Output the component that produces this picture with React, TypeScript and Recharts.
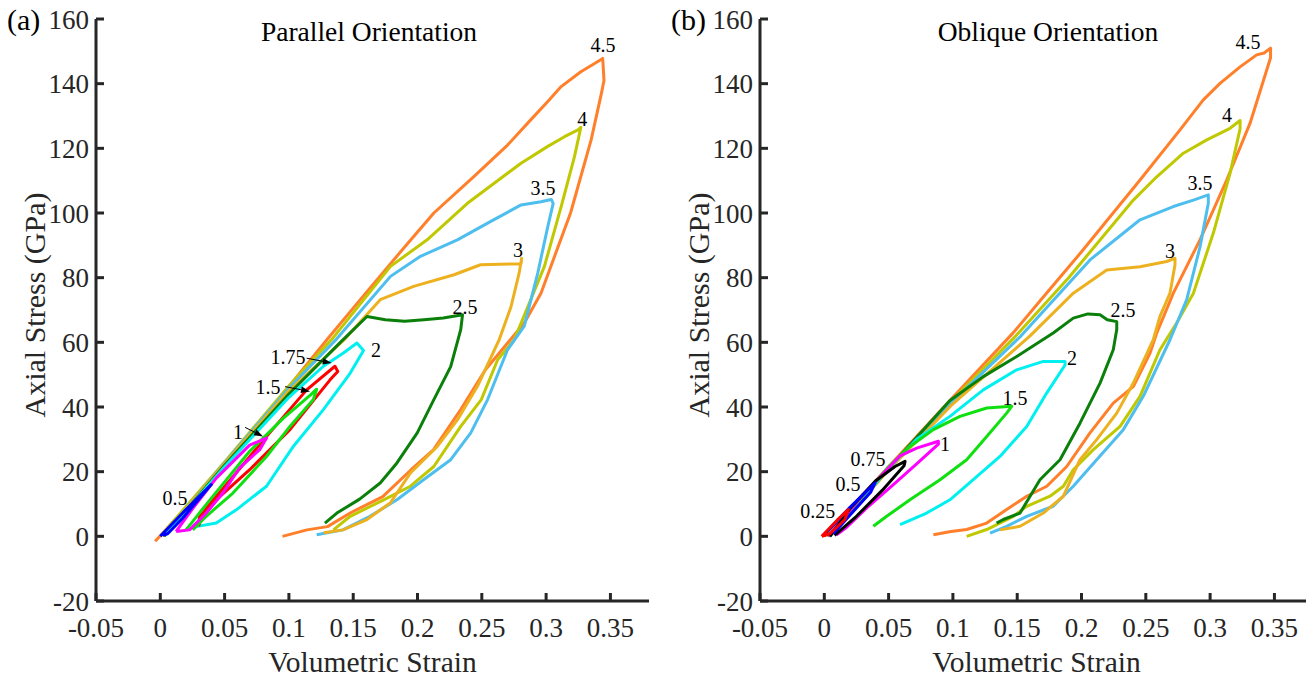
import React from 'react';
import { LineChart, Line, XAxis, YAxis, ReferenceDot, ReferenceLine, Label } from 'recharts';

type P = [number, number];

const FONT = '"Liberation Serif", "Times New Roman", serif';
const AXIS_COLOR = '#262626';

const xTicks = [-0.05, 0, 0.05, 0.1, 0.15, 0.2, 0.25, 0.3, 0.35];
const yTicks = [-20, 0, 20, 40, 60, 80, 100, 120, 140, 160];

// ---------- Panel (a): Parallel Orientation ----------
const a_45: P[] = [[-0.004,-1.5],[0.03,13],[0.08,36.5],[0.1295,60.8],[0.1555,73.2],[0.19,89.5],[0.2127,100],[0.244,111.3],[0.27,121],[0.288,128.8],[0.3013,134.5],[0.3117,139.1],[0.327,143.7],[0.338,146.3],[0.344,147.8],[0.345,141],[0.343,137],[0.335,122.6],[0.319,100],[0.296,75.2],[0.283,66],[0.2528,51.5],[0.2336,39.2],[0.2125,26.8],[0.195,20.6],[0.173,12.3],[0.148,7.3],[0.13,3],[0.114,2],[0.095,0]];
const a_4: P[] = [[0,0],[0.05,23],[0.1,46.5],[0.1335,61],[0.179,83.5],[0.2075,91.7],[0.2388,103],[0.27,112.3],[0.2805,115.4],[0.3013,120.6],[0.3143,123.6],[0.3248,125.7],[0.327,126.5],[0.3221,117.5],[0.3117,102],[0.2987,83.5],[0.2752,60.8],[0.2623,54.6],[0.2496,42.3],[0.2336,34],[0.2127,21.6],[0.1945,15.5],[0.1737,11.3],[0.1477,6.2],[0.1346,2]];
const a_35: P[] = [[0.002,0],[0.05,22.8],[0.1,45.8],[0.137,61],[0.179,80.4],[0.2023,86.6],[0.231,91.7],[0.257,97.4],[0.2805,102.5],[0.296,103.5],[0.304,104.2],[0.3055,103],[0.3013,95.8],[0.2935,81.4],[0.283,65],[0.27,57.7],[0.2545,42.3],[0.2414,32],[0.2258,23.7],[0.2047,17.5],[0.184,11.3],[0.163,6.2],[0.142,2],[0.1216,0.5]];
const a_3: P[] = [[0.002,0],[0.05,22.5],[0.1,45],[0.143,60.8],[0.171,73.2],[0.197,77.3],[0.2284,80.9],[0.249,84],[0.2805,84.3],[0.281,86],[0.279,81.4],[0.2727,71],[0.2635,60.8],[0.2466,46.4],[0.231,36],[0.2154,27.8],[0.1945,19.6],[0.179,10.4],[0.1607,5.2],[0.142,2],[0.127,1.1]];
const a_25: P[] = [[0.003,0],[0.05,22],[0.1,44],[0.14,60],[0.1607,68],[0.175,67],[0.19,66.5],[0.205,67],[0.22,67.5],[0.235,68.5],[0.2336,63.9],[0.2258,52.5],[0.2127,42.3],[0.1998,32],[0.184,22.7],[0.171,16.5],[0.155,11.5],[0.1373,7.2],[0.128,4.1]];
const a_2: P[] = [[0.004,0.5],[0.05,21.5],[0.1,43],[0.1268,52.6],[0.1424,56.7],[0.1529,59.8],[0.158,57.5],[0.1477,50.5],[0.1268,39.2],[0.1034,27.8],[0.0826,15.5],[0.0591,8.2],[0.0435,4.1],[0.0279,3],[0.025,3.5]];
const a_175: P[] = [[0.0297,3.1],[0.0348,8.3],[0.0567,18.5],[0.085,32],[0.1138,45.3],[0.1358,52.6],[0.138,51],[0.132,48.4],[0.1008,33],[0.0695,20.6],[0.0435,11.3],[0.0305,6.2],[0.0297,3.1]];
const a_15: P[] = [[0.02,2],[0.035,9.5],[0.0695,26.3],[0.0955,36.5],[0.1164,43.6],[0.1216,45.5],[0.119,42.3],[0.1008,34],[0.0826,24.7],[0.0565,13.4],[0.0357,6.2],[0.0252,2]];
const a_1: P[] = [[0.0123,1.5],[0.025,8.5],[0.0435,18],[0.0695,28.2],[0.0826,30.4],[0.0773,26.8],[0.0617,21.2],[0.0487,13.4],[0.0357,7.2],[0.0227,2],[0.0123,1.5]];
const a_05: P[] = [[0,0],[0.02,8.3],[0.0396,16],[0.0305,11.8],[0.0174,5.6],[0.0057,0.8],[0.002,0.4]];

// ---------- Panel (b): Oblique Orientation ----------
const b_45: P[] = [[0,0],[0.05,21.5],[0.1,43],[0.147,63],[0.1703,74],[0.2,88],[0.2455,110.2],[0.2766,125.7],[0.2947,135],[0.3077,140.1],[0.3233,145.2],[0.3362,148.9],[0.342,149.5],[0.347,151],[0.347,148],[0.331,127.7],[0.3129,110.2],[0.2921,91.7],[0.2714,75.2],[0.2585,62.9],[0.2533,56.7],[0.2404,46.4],[0.2247,41.2],[0.2066,32],[0.1885,21.6],[0.173,15.5],[0.1574,12.4],[0.1418,8.3],[0.1263,4.1],[0.1107,2.1],[0.0985,1.5],[0.0848,0.5]];
const b_4: P[] = [[0.002,0],[0.05,21],[0.1,42.3],[0.149,62],[0.19,80],[0.2403,104],[0.2585,111.2],[0.2792,118.5],[0.2974,122.6],[0.3155,126.2],[0.3233,128.6],[0.3233,126],[0.3155,112.3],[0.3025,93.8],[0.287,75.2],[0.274,66],[0.261,57.7],[0.2455,43.3],[0.23,34],[0.2092,26.8],[0.1936,20.6],[0.1859,15.5],[0.1755,12.4],[0.1574,9.3],[0.147,6.2],[0.1263,2.1],[0.1107,0]];
const b_35: P[] = [[0.003,0],[0.05,20.8],[0.1,41.8],[0.153,62],[0.2066,85.5],[0.2455,97.9],[0.2714,102],[0.287,104],[0.2986,105.6],[0.2986,103],[0.2922,89.6],[0.2818,73.2],[0.2688,60.8],[0.248,43.3],[0.2325,33],[0.2118,23.7],[0.1936,15.5],[0.178,9.3],[0.1574,6.2],[0.1418,3.1],[0.1289,1]];
const b_3: P[] = [[0.004,0],[0.05,20.5],[0.1,41],[0.16,62],[0.1936,75.2],[0.2196,82.4],[0.2455,83.4],[0.2662,85],[0.2727,86],[0.2727,84],[0.2688,75.2],[0.261,68],[0.2558,60.8],[0.2403,47.4],[0.2274,38.1],[0.2118,29.9],[0.1988,23.7],[0.1859,12.4],[0.1703,7.2],[0.1522,3.1],[0.1366,2]];
const b_25: P[] = [[0.004,0],[0.05,21],[0.0977,42],[0.1236,49.4],[0.1496,55.6],[0.178,62.9],[0.1936,67.5],[0.205,68.8],[0.2144,68.5],[0.22,67],[0.2274,66.4],[0.2274,64],[0.2247,57.7],[0.2144,47.4],[0.1988,35],[0.1833,23.7],[0.1677,17.5],[0.16,12.4],[0.1522,7.2],[0.1392,5.2],[0.134,4.1]];
const b_2: P[] = [[0.004,0],[0.05,21],[0.0718,30],[0.0977,37.1],[0.1236,45.3],[0.1496,51.5],[0.1703,54.1],[0.1872,54.1],[0.1872,53],[0.1729,44.3],[0.1574,34],[0.1366,24.7],[0.1185,18.5],[0.0977,11.3],[0.0796,7.2],[0.0589,3.6]];
const b_15: P[] = [[0.003,0],[0.05,21.5],[0.0666,27.8],[0.0848,33],[0.1055,37.1],[0.1263,39.7],[0.1457,40.2],[0.1418,38.1],[0.1263,30.9],[0.1107,23.7],[0.09,17.5],[0.0666,11.3],[0.0485,6.2],[0.0381,3.1]];
const b_1: P[] = [[0.003,0],[0.03,12.8],[0.0589,24.9],[0.0718,27.3],[0.0887,29.4],[0.0887,28.5],[0.0718,22.4],[0.0537,16],[0.033,8.8],[0.0174,2.8],[0.0096,0.5]];
const b_075: P[] = [[0.0044,0],[0.02,8.6],[0.04,17.2],[0.055,21.6],[0.0628,23.2],[0.062,21.8],[0.045,14.2],[0.025,6.2],[0.008,0.3]];
const b_05: P[] = [[0,0.5],[0.02,9],[0.0394,16.5],[0.036,13.6],[0.02,6.6],[0.007,0.8]];
const b_025: P[] = [[-0.002,0],[0.01,5],[0.0187,8.3],[0.016,5.2],[0.0044,0.8],[-0.002,0]];

// Annotation labels: [text, x, y]
const a_labels: [string, number, number][] = [['4.5',0.3443,151.9],['4',0.328,129.1],['3.5',0.2976,107.8],['3',0.2782,88.6],['2.5',0.2369,71.0],['2',0.1677,57.7],['1.75',0.0993,55.5],['1.5',0.0837,46.3],['1',0.0604,32.4],['0.5',0.0114,12.0]];
const b_labels: [string, number, number][] = [['4.5',0.3295,152.9],['4',0.3131,130.3],['3.5',0.2921,109.3],['3',0.2688,88.3],['2.5',0.2323,70.1],['2',0.1926,55.2],['1.5',0.1483,42.9],['1',0.0939,28.6],['0.75',0.034,24.0],['0.5',0.0184,16.3],['0.25',-0.005,8.0]];
// Arrows (panel a): [x1, y1, x2, y2]
const a_arrows: [number, number, number, number][] = [[0.1138,55.1,0.1333,53.6],[0.097,46.3,0.1164,44.8],[0.0659,33.7,0.0799,30.9]];

const ORANGE = '#FF7F2A';
const YGREEN = '#BFC800';
const LBLUE = '#4DBEEE';
const GOLD = '#EDB120';
const DGREEN = '#0A7F0A';
const CYAN = '#00F0F0';
const LIME = '#10E010';
const RED = '#FF0000';
const MAGENTA = '#FF00FF';
const BLUE = '#0000FF';
const BLACK = '#000000';

type Loop = { name: string; color: string; pts: P[] };

const aLoops: Loop[] = [
  { name: '4.5', color: ORANGE, pts: a_45 },
  { name: '4', color: YGREEN, pts: a_4 },
  { name: '3.5', color: LBLUE, pts: a_35 },
  { name: '3', color: GOLD, pts: a_3 },
  { name: '2.5', color: DGREEN, pts: a_25 },
  { name: '2', color: CYAN, pts: a_2 },
  { name: '1.75', color: RED, pts: a_175 },
  { name: '1.5', color: LIME, pts: a_15 },
  { name: '1', color: MAGENTA, pts: a_1 },
  { name: '0.5', color: BLUE, pts: a_05 },
];

const bLoops: Loop[] = [
  { name: '4.5', color: ORANGE, pts: b_45 },
  { name: '4', color: YGREEN, pts: b_4 },
  { name: '3.5', color: LBLUE, pts: b_35 },
  { name: '3', color: GOLD, pts: b_3 },
  { name: '2.5', color: DGREEN, pts: b_25 },
  { name: '2', color: CYAN, pts: b_2 },
  { name: '1.5', color: LIME, pts: b_15 },
  { name: '1', color: MAGENTA, pts: b_1 },
  { name: '0.75', color: BLACK, pts: b_075 },
  { name: '0.5', color: BLUE, pts: b_05 },
  { name: '0.25', color: RED, pts: b_025 },
];

const fmt = (v: number) => String(Math.round(v * 100) / 100);

const ArrowShape = (props: any) => {
  const { x1, y1, x2, y2 } = props;
  if ([x1, y1, x2, y2].some((v) => typeof v !== 'number' || isNaN(v))) return <g />;
  const ang = Math.atan2(y2 - y1, x2 - x1);
  const L = 9, W = 3.2;
  const bx = x2 - L * Math.cos(ang), by = y2 - L * Math.sin(ang);
  const px = -Math.sin(ang) * W, py = Math.cos(ang) * W;
  return (
    <g>
      <line x1={x1} y1={y1} x2={bx} y2={by} stroke="#000" strokeWidth={1} />
      <polygon points={`${x2},${y2} ${bx + px},${by + py} ${bx - px},${by - py}`} fill="#000" />
    </g>
  );
};

const XTitle = (props: any) => {
  const vb = props.viewBox || { x: 0, y: 0, width: 0, height: 0 };
  return (
    <text x={vb.x + vb.width / 2} y={vb.y + 71} textAnchor="middle" fontSize={29.5} fontFamily={FONT} fill={AXIS_COLOR}>
      Volumetric Strain
    </text>
  );
};

const YTitle = (props: any) => {
  const vb = props.viewBox || { x: 0, y: 0, width: 0, height: 0 };
  const cx = vb.x - 2;
  const cy = vb.y + vb.height / 2 - 5;
  return (
    <text x={cx} y={cy} transform={`rotate(-90, ${cx}, ${cy})`} textAnchor="middle" dominantBaseline="central" fontSize={30} fontFamily={FONT} fill={AXIS_COLOR}>
      Axial Stress (GPa)
    </text>
  );
};

function Panel({ left, loops, labels, arrows }: { left: number; loops: Loop[]; labels: [string, number, number][]; arrows: [number, number, number, number][] }) {
  return (
    <div style={{ position: 'absolute', left, top: 0 }}>
      <LineChart width={660} height={679} margin={{ top: 19, right: 11, bottom: 0, left: 36 }}>
        <XAxis
          type="number"
          dataKey="x"
          domain={[-0.05, 0.38]}
          ticks={xTicks}
          interval={0}
          allowDataOverflow
          tickFormatter={fmt}
          height={78}
          tickSize={-8}
          tickMargin={25}
          axisLine={{ stroke: AXIS_COLOR, strokeWidth: 3 }}
          tickLine={{ stroke: AXIS_COLOR, strokeWidth: 3 }}
          tick={{ fill: AXIS_COLOR, fontSize: 27, fontFamily: FONT }}
        >
          <Label content={<XTitle />} />
        </XAxis>
        <YAxis
          type="number"
          dataKey="y"
          domain={[-20, 160]}
          ticks={yTicks}
          interval={0}
          allowDataOverflow
          width={60}
          tickSize={-8}
          tickMargin={15}
          axisLine={{ stroke: AXIS_COLOR, strokeWidth: 3 }}
          tickLine={{ stroke: AXIS_COLOR, strokeWidth: 3 }}
          tick={{ fill: AXIS_COLOR, fontSize: 27, fontFamily: FONT }}
        >
          <Label content={<YTitle />} />
        </YAxis>
        {loops.map((l) => (
          <Line
            key={l.name}
            name={l.name}
            data={l.pts.map(([x, y]) => ({ x, y }))}
            dataKey="y"
            type="linear"
            stroke={l.color}
            strokeWidth={3}
            strokeLinejoin="round"
            dot={false}
            activeDot={false}
            isAnimationActive={false}
          />
        ))}
        {arrows.map((a, i) => (
          <ReferenceLine key={'ar' + i} segment={[{ x: a[0], y: a[1] }, { x: a[2], y: a[3] }]} shape={ArrowShape} ifOverflow="visible" />
        ))}
        {labels.map(([t, x, y]) => (
          <ReferenceDot
            key={'lb' + t}
            x={x}
            y={y}
            r={0}
            fill="none"
            stroke="none"
            ifOverflow="visible"
            label={{ value: t, position: 'center', fontSize: 20, fontFamily: FONT, fill: '#000' }}
          />
        ))}
      </LineChart>
    </div>
  );
}

export default function App() {
  return (
    <div style={{ position: 'absolute', left: 0, top: 0, width: 1306, height: 679, overflow: 'hidden', background: '#fff' }}>
      <Panel left={0} loops={aLoops} labels={a_labels} arrows={a_arrows} />
      <Panel left={664} loops={bLoops} labels={b_labels} arrows={[]} />
      <svg width={1306} height={679} style={{ position: 'absolute', left: 0, top: 0, pointerEvents: 'none' }}>
        <text x={7} y={30} fontSize={30} fontFamily={FONT} fill="#000">(a)</text>
        <text x={671} y={30} fontSize={30} fontFamily={FONT} fill="#000">(b)</text>
        <text x={369} y={41} textAnchor="middle" fontSize={27.5} fontFamily={FONT} fill="#000">Parallel Orientation</text>
        <text x={1048} y={41} textAnchor="middle" fontSize={27.5} fontFamily={FONT} fill="#000">Oblique Orientation</text>
      </svg>
    </div>
  );
}
